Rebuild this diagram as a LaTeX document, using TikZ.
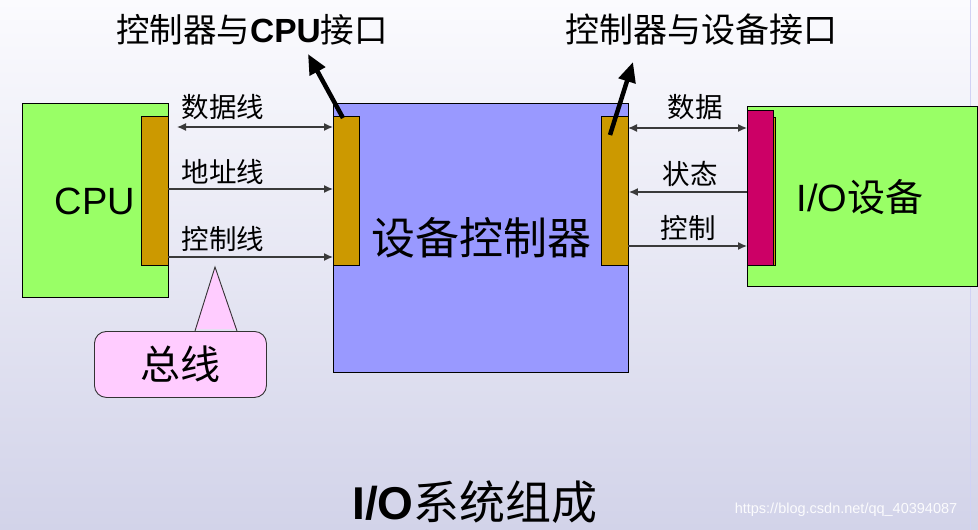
\documentclass[tikz,border=0pt]{standalone}
\usepackage{fontspec}
\usetikzlibrary{arrows.meta}
\newfontfamily\cjk{Noto Sans CJK SC}
\newfontfamily\lat{Liberation Sans}
\definecolor{bgtop}{HTML}{FBFBFE}
\definecolor{bgbot}{HTML}{D2D3E9}
\definecolor{boxgreen}{HTML}{99FF66}
\definecolor{boxblue}{HTML}{9999FF}
\definecolor{gold}{HTML}{CC9900}
\definecolor{magenta}{HTML}{CC0066}
\definecolor{pinkbox}{HTML}{FFCCFF}
\definecolor{lineg}{HTML}{3A3A3A}
\newcommand{\fs}[1]{\fontsize{#1}{#1}\selectfont}
\tikzset{
  blk/.style={draw=black, line width=0.9pt, inner sep=0pt, anchor=north west},
  lbl/.style={inner sep=0pt, font=\cjk\fs{27.5}},
  busline/.style={draw=lineg, line width=1.3pt},
  tipsmall/.style={-{Latex[length=9pt,width=8pt]}},
  tipboth/.style={{Latex[length=9pt,width=8pt]}-{Latex[length=9pt,width=8pt]}},
  thickarr/.style={line width=4.5pt, -{Triangle[length=20pt,width=17pt]}}
}
\begin{document}
\begin{tikzpicture}[x=1pt,y=-1pt]
\useasboundingbox (0,0) rectangle (978,530);
\shade[top color=bgtop, bottom color=bgbot] (0,0) rectangle (978,530);
\draw[color=bgbot!85!blue!60!white, line width=1.5pt] (970.5,0) -- (970.5,530);

% boxes
\node[blk, fill=boxgreen, minimum width=146pt, minimum height=194pt] (cpu) at (22,103) {};
\node[blk, fill=gold, minimum width=27pt, minimum height=149pt] (cpubar) at (141,116) {};
\node[font=\lat\fs{38}, inner sep=0pt] (cputxt) at (95,201) {CPU};

\node[blk, fill=boxblue, minimum width=295pt, minimum height=269pt] (ctrl) at (333,103) {};
\node[blk, fill=gold, minimum width=26pt, minimum height=149pt] (ctrlL) at (333,116) {};
\node[blk, fill=gold, minimum width=27pt, minimum height=149pt] (ctrlR) at (601,116) {};
\node[font=\cjk\fs{44}, inner sep=0pt] (ctrltxt) at (481,238) {设备控制器};

\node[blk, fill=boxgreen, minimum width=230pt, minimum height=180pt] (io) at (747,106) {};
\node[blk, fill=gold, line width=0.7pt, minimum width=26pt, minimum height=148pt] (ioshadow) at (749,117) {};
\node[blk, fill=magenta, minimum width=26pt, minimum height=155pt] (iobar) at (747,110) {};
\node[inner sep=0pt] (iotxt) at (860,197) {\lat\fs{38}I/O\cjk 设备};

% left bus lines
\coordinate (d1) at (177,127);
\coordinate (a1) at (168,189);
\coordinate (c1) at (168,257);
\draw[busline, tipboth] (d1) -- (d1 -| ctrlL.west);
\draw[busline, tipsmall] (a1) -- (a1 -| ctrlL.west);
\draw[busline, tipsmall] (c1) -- (c1 -| ctrlL.west);
\node[lbl] (ldata) at (223,107.5) {数据线};
\node[lbl] (laddr) at (223,172) {地址线};
\node[lbl] (lctrl) at (223,239) {控制线};

% right lines
\coordinate (d2) at (628,128);
\coordinate (s2) at (747,192);
\coordinate (c2) at (628,246);
\draw[busline, tipboth] (d2) -- (d2 -| iobar.west);
\draw[busline, tipsmall] (s2) -- (s2 -| ctrlR.east);
\draw[busline, tipsmall] (c2) -- (c2 -| iobar.west);
\node[lbl] (rdata) at (695,107.5) {数据};
\node[lbl] (rstat) at (690,174) {状态};
\node[lbl] (rctrl) at (688,228) {控制};

% top labels with thick arrows
\node[inner sep=0pt] (t1) at (252,30) {\cjk\fs{33.5}控制器与{\lat\bfseries CPU}接口};
\node[inner sep=0pt] (t2) at (701,30) {\cjk\fs{34}控制器与设备接口};
\coordinate (p1) at (343,118);
\coordinate (q1) at (308,54);
\coordinate (p2) at (610,135);
\coordinate (q2) at (633,62);
\draw[thickarr] (p1) -- (q1);
\draw[thickarr] (p2) -- (q2);

% callout
\node[draw=black!80, line width=0.9pt, fill=pinkbox, rounded corners=12pt, inner sep=0pt,
      anchor=north west, minimum width=172pt, minimum height=66pt] (bus) at (94,331) {};
\coordinate (tip) at (215,267);
\coordinate (bl) at (195,331);
\coordinate (br) at (237,331);
\fill[pinkbox] ([yshift=2pt]bl) -- (tip) -- ([yshift=2pt]br) -- cycle;
\draw[black!80, line width=0.9pt] (bl) -- (tip) -- (br);
\node[font=\cjk\fs{40}, inner sep=0pt] (bustxt) at (180,364) {总线};

% title
\node[inner sep=0pt] (title) at (475,502) {\lat\bfseries\fs{46}I/O\cjk\mdseries 系统组成};
\node[inner sep=0pt, text=white!92!bgbot, font=\lat\fs{14.5}] (wm) at (846,510) {https://blog.csdn.net/qq\_40394087};
\end{tikzpicture}
\end{document}
